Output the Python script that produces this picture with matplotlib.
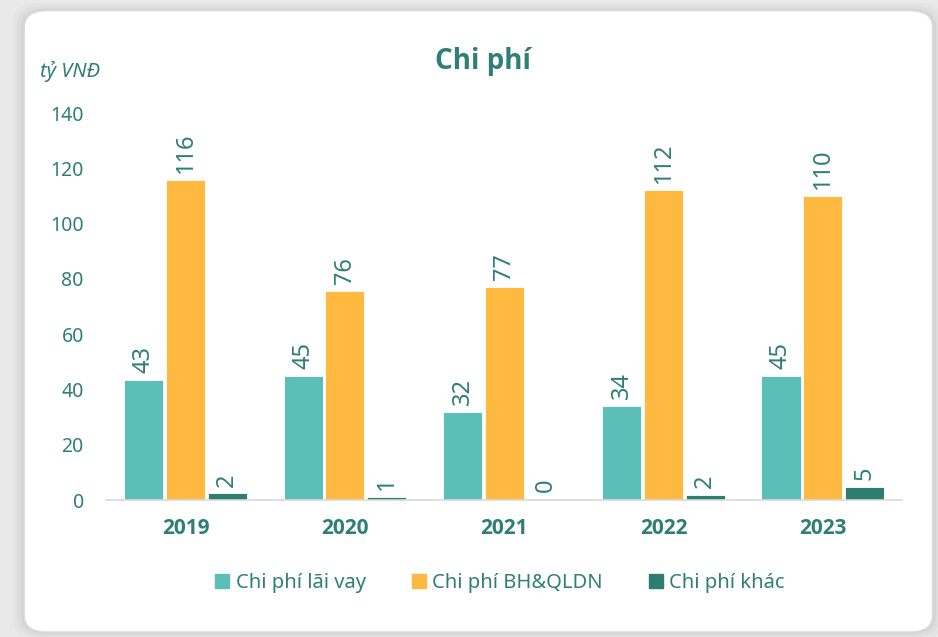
import numpy as np
import matplotlib.pyplot as plt
from matplotlib.patches import FancyBboxPatch, Patch

# data
years = ["2019", "2020", "2021", "2022", "2023"]
lai_vay = [43.3, 45.0, 32.0, 34.0, 45.0]
bh_qldn = [115.8, 75.8, 77.0, 112.3, 110.0]
khac = [2.4, 1.2, 0.3, 2.0, 4.8]
series_names = ["Chi phí lãi vay", "Chi phí BH&QLDN", "Chi phí khác"]

c_teal = "#5BBFB8"
c_orange = "#FFB940"
c_dark = "#2E7D73"
txt = "#2F7F76"
bold_font = ['Open Sans', 'DejaVu Sans']

plt.rcParams['font.family'] = ['Noto Sans', 'DejaVu Sans']

fig = plt.figure(figsize=(9.38, 6.37), dpi=100)
fig.patch.set_facecolor("#E9E9E9")

# soft shadow + white card with rounded corners
for i, a in enumerate([0.05, 0.08, 0.12]):
    d = 0.004 * (3 - i)
    sh = FancyBboxPatch((0.026 - d, 0.008 - d), 0.968 + 2 * d, 0.975 + 2 * d,
                        boxstyle="round,pad=0,rounding_size=0.03",
                        transform=fig.transFigure, facecolor="#9A9A9A",
                        edgecolor="none", alpha=a, zorder=-6)
    fig.patches.append(sh)
card = FancyBboxPatch((0.026, 0.008), 0.968, 0.975,
                      boxstyle="round,pad=0,rounding_size=0.025",
                      transform=fig.transFigure, facecolor="white",
                      edgecolor="#DCDCDC", linewidth=0.8, zorder=-5)
fig.patches.append(card)

ax = fig.add_axes([0.113, 0.215, 0.849, 0.6075])
ax.set_facecolor("none")
ax.set_zorder(2)

x = np.arange(len(years))
w = 0.245
off = 0.262
groups = [(lai_vay, c_teal, -off), (bh_qldn, c_orange, 0), (khac, c_dark, off)]
for vals, col, dx in groups:
    bars = ax.bar(x + dx, vals, width=w, color=col, edgecolor="white", linewidth=0.6)
    for b, v in zip(bars, vals):
        ax.text(b.get_x() + b.get_width() / 2, v + 2.5, f"{v:.0f}",
                rotation=90, ha="center", va="bottom", fontsize=17, color=txt)

ax.set_xlim(-0.5, 4.5)
ax.set_ylim(0, 140)
ax.set_yticks(range(0, 141, 20))
ax.set_xticks(x)
ax.set_xticklabels(years, fontsize=15, fontweight="bold", color=txt, family=bold_font)
ax.tick_params(axis="y", labelsize=14, labelcolor=txt, length=0, pad=16)
ax.tick_params(axis="x", length=0, pad=13)
for s in ["top", "right", "left"]:
    ax.spines[s].set_visible(False)
ax.spines["bottom"].set_color("#D9D9D9")
ax.spines["bottom"].set_linewidth(1.2)

fig.text(0.515, 0.903, "Chi phí", ha="center", va="center", fontsize=20,
         fontweight="bold", color=txt, family=bold_font)
fig.text(0.043, 0.888, "tỷ VNĐ", ha="left", va="center", fontsize=14.5,
         style="italic", color=txt)

handles = [Patch(color=c) for c in (c_teal, c_orange, c_dark)]
fig.legend(handles, series_names, loc="center", bbox_to_anchor=(0.533, 0.085),
           ncol=3, frameon=False, fontsize=14.5, labelcolor=txt,
           handlelength=0.7, handleheight=0.7, handletextpad=0.3, columnspacing=2.3)

fig.savefig("out.png", dpi=100, facecolor=fig.get_facecolor())
